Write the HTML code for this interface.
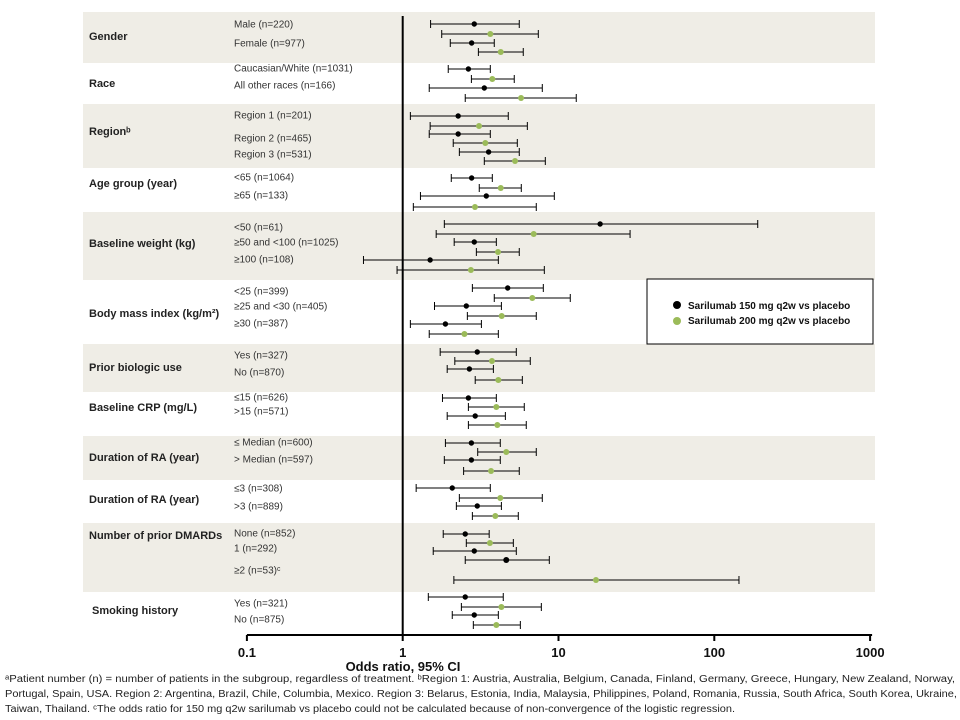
<!DOCTYPE html>
<html><head><meta charset="utf-8"><style>
html,body{margin:0;padding:0;background:#fff;}
svg{display:block;font-family:"Liberation Sans",Arial,sans-serif;}
.cat{font-size:11px;font-weight:bold;fill:#222;}
.sub{font-size:10px;fill:#333;}
.tick{font-size:13px;font-weight:bold;fill:#111;}
.foot{font-family:"Liberation Sans Narrow","Liberation Sans",sans-serif;font-size:10px;fill:#222;}
</style></head><body>
<svg id="chart" width="960" height="720" viewBox="0 0 960 720">
<g id="bands"></g>
<g id="labels"></g>
<g id="marks"></g>
<g id="axis"></g>
<g>
 <rect x="647" y="279" width="226" height="65" fill="#fff" stroke="#000" stroke-width="1"/>
 <circle cx="677" cy="305" r="4" fill="#000"/>
 <text x="688" y="309" font-size="10" font-weight="bold" fill="#111">Sarilumab 150 mg q2w vs placebo</text>
 <circle cx="677" cy="321" r="4" fill="#9bbb59"/>
 <text x="688" y="324" font-size="10" font-weight="bold" fill="#111">Sarilumab 200 mg q2w vs placebo</text>
</g>
<text x="403" y="671" text-anchor="middle" class="tick">Odds ratio, 95% CI</text>
<text x="5" y="682" class="foot" textLength="950" lengthAdjust="spacingAndGlyphs">ᵃPatient number (n) = number  of patients in the subgroup, regardless of treatment. ᵇRegion 1: Austria, Australia, Belgium, Canada, Finland, Germany, Greece, Hungary, New Zealand, Norway,</text>
<text x="5" y="697" class="foot" textLength="952" lengthAdjust="spacingAndGlyphs">Portugal, Spain, USA. Region 2: Argentina, Brazil, Chile, Columbia,  Mexico. Region 3: Belarus, Estonia, India, Malaysia, Philippines,  Poland, Romania,  Russia, South Africa, South Korea, Ukraine,</text>
<text x="5" y="712" class="foot" textLength="730" lengthAdjust="spacingAndGlyphs">Taiwan, Thailand. ᶜThe odds ratio for 150 mg q2w sarilumab vs placebo could not be calculated because of non-convergence of the logistic regression.</text>
</svg>
<script>
// ---- data ----
const groups = ["Gender","Race","Regionᵇ","Age group (year)","Baseline weight (kg)","Body mass index (kg/m²)","Prior biologic use","Baseline CRP (mg/L)","Duration of RA (year)","Duration of RA (year)","Number of prior DMARDs","Smoking history"];
const subgroups = ["Male (n=220)","Female (n=977)","Caucasian/White (n=1031)","All other races (n=166)","Region 1 (n=201)","Region 2 (n=465)","Region 3 (n=531)","<65 (n=1064)","≥65 (n=133)","<50 (n=61)","≥50 and <100 (n=1025)","≥100 (n=108)","<25 (n=399)","≥25 and <30 (n=405)","≥30 (n=387)","Yes (n=327)","No (n=870)","≤15 (n=626)",">15 (n=571)","≤ Median (n=600)","> Median (n=597)","≤3 (n=308)",">3 (n=889)","None (n=852)","1 (n=292)","≥2 (n=53)ᶜ","Yes (n=321)","No (n=875)"];
const est150 = [2.88,2.77,2.64,3.34,2.27,2.27,3.56,2.77,3.44,18.5,2.88,1.50,4.72,2.56,1.88,3.01,2.68,2.64,2.92,2.76,2.76,2.08,3.01,2.52,2.88,null,2.52,2.88];
const lo150  = [1.51,2.02,1.96,1.48,1.12,1.48,2.31,2.05,1.30,1.85,2.14,0.56,2.80,1.60,1.12,1.74,1.93,1.80,1.93,1.88,1.85,1.22,2.21,1.82,1.57,null,1.46,2.08];
const hi150  = [5.60,3.87,3.65,7.87,4.76,3.65,5.60,3.76,9.40,190,3.99,4.11,7.99,4.30,3.20,5.36,3.82,3.99,4.56,4.23,4.23,3.65,4.30,3.59,5.36,null,4.42,4.11];
const est200 = [3.65,4.26,3.76,5.75,3.09,3.39,5.26,4.26,2.91,6.93,4.09,2.74,6.79,4.32,2.49,3.74,4.11,3.99,4.05,4.62,3.69,4.23,3.93,3.63,4.62,17.4,4.30,3.99];
const lo200  = [1.78,3.06,2.76,2.52,1.50,2.11,3.34,3.10,1.17,1.64,2.97,0.92,3.87,2.60,1.48,2.16,2.92,2.64,2.64,3.03,2.46,2.31,2.80,2.56,2.52,2.13,2.38,2.84];
const hi200  = [7.42,5.94,5.20,13.0,6.31,5.44,8.23,5.77,7.20,28.8,5.60,8.11,11.9,7.20,4.11,6.59,5.86,6.03,6.21,7.20,5.60,7.87,5.52,5.13,8.73,144,7.76,5.69];
const tickLabels = ["0.1","1","10","100","1000"];
const tickValues = [0.1,1,10,100,1000];
// ---- layout ----
const bandsY = [[12,63],[63,104],[104,168],[168,212],[212,280],[280,344],[344,392],[392,436],[436,480],[480,523],[523,592],[592,632]];
const groupLabelY = [37,84,132,184,244,314,368,408,458,500,536,611];
const subLabelY = [25,44,69,86,116,139,155,178,196,228,243,260,292,307,324,356,373,398,412,443,460,489,507,534,549,571,604,620];
const markY150 = [24,43,69,88,116,134,152,178,196,224,242,260,288,306,324,352,369,398,416,443,460,488,506,534,551,0,597,615];
const markY200 = [34,52,79,98,126,143,161,188,207,234,252,270,298,316,334,361,380,407,425,452,471,498,516,543,560,580,607,625];
const color200 = subgroups.map((s,i)=> i===24 ? "#000" : "#9bbb59");
const X0=402.7, DEC=155.8;
function xs(v){return X0+DEC*Math.log10(v);}
const NS="http://www.w3.org/2000/svg";
function mk(tag,attrs,parent){const e=document.createElementNS(NS,tag);for(const k in attrs)e.setAttribute(k,attrs[k]);parent.appendChild(e);return e;}
const bandsG=document.getElementById('bands'),labelsG=document.getElementById('labels'),marksG=document.getElementById('marks'),axisG=document.getElementById('axis');
bandsY.forEach((b,i)=>{
  const r=mk('rect',{x:83,y:b[0],width:792,height:b[1]-b[0],fill:i%2===0?"#efede6":"#ffffff"},bandsG);
  
  
});
groups.forEach((g,i)=>{
  const t=mk('text',{x:i===11?92:89,y:groupLabelY[i],'dominant-baseline':'middle',class:'cat'},labelsG);
  t.textContent=g;
  
  
});
subgroups.forEach((s,i)=>{
  const t=mk('text',{x:234,y:subLabelY[i],'dominant-baseline':'middle',class:'sub'},labelsG);
  t.textContent=s;
  
  
});
function drawCI(lo,est,hi,y,col,r,name){
  const g=mk('g',{},marksG);
  
  
  const x1=xs(lo),x2=xs(hi);
  mk('line',{x1:x1,x2:x2,y1:y,y2:y,stroke:'#000','stroke-width':1},g);
  mk('line',{x1:x1,x2:x1,y1:y-4,y2:y+4,stroke:'#000','stroke-width':1},g);
  mk('line',{x1:x2,x2:x2,y1:y-4,y2:y+4,stroke:'#000','stroke-width':1},g);
  mk('circle',{cx:xs(est),cy:y,r:r,fill:col},g);
}
subgroups.forEach((s,i)=>{
  if(est150[i]!==null) drawCI(lo150[i],est150[i],hi150[i],markY150[i],'#000',2.7,'ci-150mg');
  if(est200[i]!==null) drawCI(lo200[i],est200[i],hi200[i],markY200[i],color200[i],3,'ci-200mg');
});
// reference line and axis
const ref=mk('line',{x1:xs(1),x2:xs(1),y1:16,y2:636,stroke:'#000','stroke-width':2},axisG);


const ax=mk('line',{x1:xs(0.1),x2:xs(1000)+2,y1:635,y2:635,stroke:'#000','stroke-width':2},axisG);


tickValues.forEach((v,i)=>{
  const tk=mk('line',{x1:xs(v),x2:xs(v),y1:635,y2:641,stroke:'#000','stroke-width':2},axisG);
  
  
  const t=mk('text',{x:xs(v),y:657,'text-anchor':'middle',class:'tick'},axisG);
  t.textContent=tickLabels[i];
  
  
});
</script>
</body></html>
